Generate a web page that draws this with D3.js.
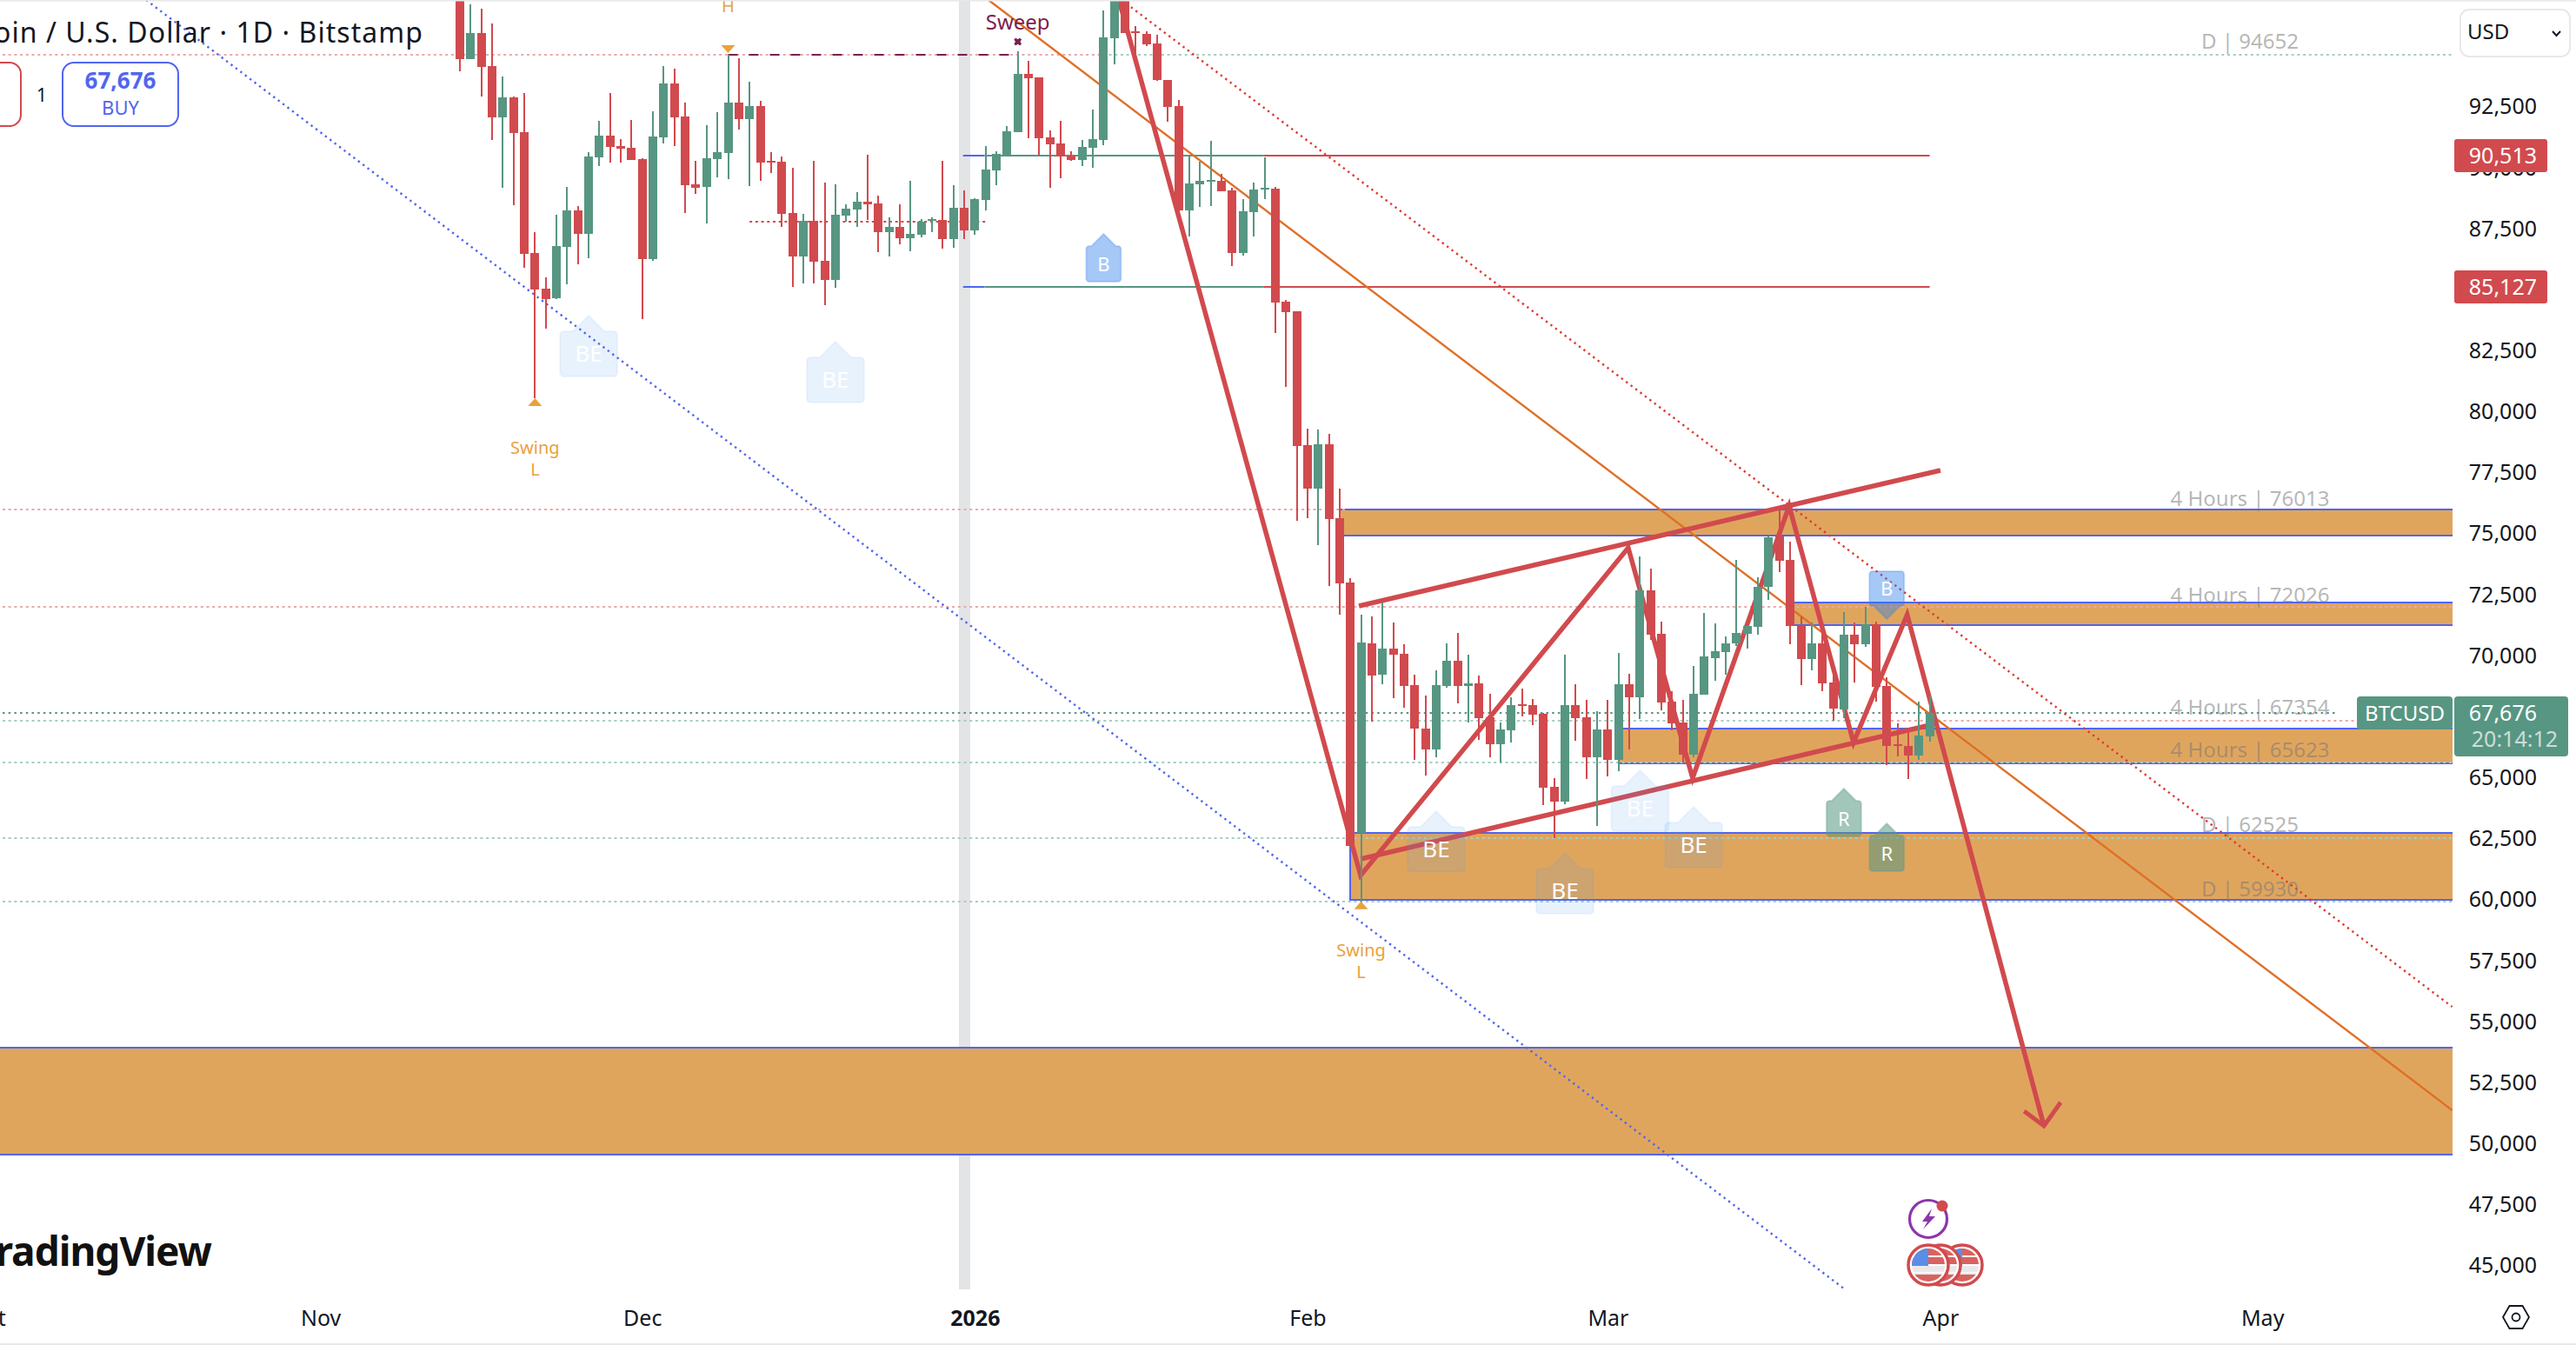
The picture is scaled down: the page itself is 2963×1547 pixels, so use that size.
<!DOCTYPE html>
<html><head><meta charset="utf-8">
<script src="https://cdn.jsdelivr.net/npm/d3@7"></script>
<style>html,body{margin:0;padding:0;background:#fff;overflow:hidden}svg{display:block}text{font-family:"Noto Sans",sans-serif}</style>
</head><body>
<script>
const highs=[97800,96715,96537,95931,93757,92937,93079,87377,85524,88090,
89230,88446,90656,91939,93079,91191,91975,90395,92331,94184,
94077,92687,90300,91761,92295,94648,94505,93543,92759,90656,
90478,90014,88126,90300,89409,89337,88518,89017,90549,88874,
87983,88518,89480,87912,87983,90300,89302,89088,88767,90905,
90692,91725,94790,94398,93721,91547,91939,90692,91155,92402,
96465,98200,98000,95824,95610,95467,93614,92794,90513,90264,
91119,89765,89195,88731,89409,90442,89230,84597,84134,79322,
79287,79109,76863,73193,71696,71625,72195,71375,70484,69237,
68381,69415,70519,70947,70056,69201,68453,67276,68310,68666,
68239,67668,65005,70056,68845,68203,67740,68203,70127,69272,
74083,73585,71410,68559,68203,69593,71767,71339,70805,73941,
71232,73228,74939,76044,74689,71625,71375,71232,69450,71802,
71375,72028,71410,69130,67241,67027,68131,68345];
const lows=[93980,94480,92949,91167,89207,88494,85928,80570,83433,84645,
85251,86070,86320,90098,90240,90240,90347,83825,86213,91024,
90917,88173,88957,87745,89634,89563,91595,89278,89492,89812,
87603,85144,85286,85286,84395,85108,87817,87603,87876,86569,
86391,86890,86605,87175,87389,86712,86748,87104,87282,88280,
89314,90513,91488,91238,90513,89207,89599,90300,90098,90026,
90953,94268,95551,94268,95016,93590,91915,87745,87211,88423,
88458,89064,85999,86427,87211,88743,83255,81045,75556,75664,
74559,72883,71708,62200,59947,67324,68856,68286,67894,65755,
65114,65862,68714,68073,67288,66575,65862,65649,66468,67537,
67181,63902,62549,63937,66540,64971,63046,65078,65292,66183,
67431,70662,67787,66967,65649,65862,68429,69000,69237,70413,
70317,70876,72301,73442,70484,68809,69415,68559,67348,67455,
68916,70377,68131,65542,65886,64971,65755,66493];
const opens=[97400,94480,95539,94184,92093,92901,91476,86522,85061,84680,
86783,88268,87318,90442,91333,90905,90834,90371,86284,91262,
93472,92117,89337,89242,90383,90632,92687,92022,92545,90300,
90264,88161,86391,87840,86201,85429,88066,88316,88625,88553,
87389,87591,87139,87282,87840,87876,87104,88375,87460,88708,
89920,90513,91488,93864,93721,91262,91012,90513,90347,90846,
91167,95337,97400,95622,95503,95111,93614,92545,88280,89337,
89456,89480,89088,86534,88209,89123,89159,84526,84134,78645,
76875,78681,75651,73014,62738,70519,69237,70306,70091,68809,
67027,66183,68785,69807,68785,68880,67490,66396,66967,68025,
67989,67632,64649,64044,67989,67490,65862,66991,65755,68845,
68321,72693,70911,68131,67276,65969,68429,69913,70163,70519,
70911,71196,72836,74915,73941,71268,69878,70519,68916,67811,
70875,70484,71303,68773,66385,66314,65922,66706];
const closes=[94480,95540,94161,92093,92901,91452,86498,85037,84645,86807,
88268,87318,90478,91333,90882,90810,90347,86284,91297,93472,
92093,89313,89207,90407,90656,92687,92022,92545,90240,90240,
88137,86391,87840,86177,85429,88090,88340,88625,88518,87389,
87591,87139,87306,87805,87912,87104,88375,87460,88731,89943,
90585,91511,93864,93685,91238,90989,90490,90335,90870,91191,
95360,97300,95551,95551,95075,93614,92521,88280,89373,89480,
89515,89064,86534,88232,89123,89195,84502,84110,78622,76875,
78681,75628,72990,62226,70555,69213,70306,70068,68785,67039,
66183,68809,69807,68785,68880,67466,66396,66991,67989,67977,
67609,64615,64044,67989,67466,65862,66991,65755,68845,68321,
72693,70876,68108,67252,65969,68453,69985,70198,70519,70947,
71232,72836,74868,73905,71232,69878,70519,68880,67847,70875,
70484,71303,68737,66314,66337,65922,66742,67676];
const priceTicks=[45000,47500,50000,52500,55000,57500,60000,62500,65000,67500,70000,72500,75000,77500,80000,82500,85000,87500,90000,92500];
const monthDates=["2025-10-01","2025-11-01","2025-12-01","2026-01-01","2026-02-01","2026-03-01","2026-04-01","2026-05-01"];
const monthLabels=["Oct","Nov","Dec","2026","Feb","Mar","Apr","May"];
// supply/demand zones: [fromDay, toDay, topPrice, bottomPrice]
const zones=[[-60,190,53946,49564],[83,190,62750,60000],[108,190,67026,65601],[124,190,72194,71268],[82,190,76008,74939]];
// level lines: [price, fromDay, toDay, kind]
const dottedLevels=[[94652,-60,60.5,"pink"],[94652,60.5,190,"mint"],[76013,-60,82.5,"pink"],[72026,-60,190,"pink"],
[67676,-60,175,"green"],[67354,-60,133.4,"mint"],[67354,133.4,190,"pink"],[65623,-60,190,"mint"],[62525,-60,190,"mint"],[59930,-60,190,"mint"],[87805,27,49,"red"]];
const segLevels=[[90513,46.9,48.9,"blue"],[90513,48.9,74.9,"green"],[90513,74.9,137,"red"],[85127,46.9,48.9,"blue"],[85127,48.9,74.9,"green"],[85127,74.9,137,"red"]];
const sweepLevel=[94652,25,51.4];
const blueTrend=[[-29.25,96893],[129.1,44039]];
const orangeTrend=[[49.27,96893],[185.7,51381]];
const redDotTrend=[[61.67,96893],[185.7,55622]];
const zigzag=[[61.43,96893],[83.95,61004],[108.9,74440],[114.9,64995],[123.9,76151],[129.9,66456],[134.9,71696],[147.65,50739]];
const arrowHead=[[145.8,51345],[147.65,50739],[149.2,51701]];
const channelUp=[[83.8,72052],[138,77612]];
const channelLow=[[83.95,61681],[137.7,67241]];
const beLabels=[[12,83956],[35,82886],[91,63641],[103,61930],[110,65316],[115,63819]];
const bLabelsUp=[[60,87306,"B","blue"],[129,64568,"R","green"],[133,63142,"R","green"]];
const bLabelDown=[133,71517,"B"];
const levelLabels=[["D | 94652",47],["4 Hours | 76013",573],["4 Hours | 72026",684],["4 Hours | 67354",813],["4 Hours | 65623",862],["D | 62525",948],["D | 59930",1022]];
const redTags=[90513,85127];
const lastPrice=67676, countdown="20:14:12";

const W=2963,H=1547,PR=2821,PB=1483;
const RED="#d14a4e",GREEN="#579682",BLUE="#5066f0",ORANGE="#e06f27",PURPLE="#7b1f4f",SW="#e9a23b";
const start=new Date(Date.UTC(2025,10,14));
const dateOf=d=>new Date(+start+d*864e5);
const x=d3.scaleUtc().domain([start,dateOf(137)]).range([529,2219.6]);
const y=d3.scaleLinear().domain([96893,44000]).range([0,1484.1]);
const X=d=>x(dateOf(d)), Y=p=>y(p), RY=p=>Math.round(y(p));
const svg=d3.select("body").append("svg").attr("width",W).attr("height",H).attr("viewBox",`0 0 ${W} ${H}`);
svg.append("rect").attr("width",W).attr("height",H).attr("fill","#fff");
svg.append("defs").append("clipPath").attr("id","pane").append("rect").attr("width",PR).attr("height",PB);
const pane=svg.append("g").attr("clip-path","url(#pane)");

// session bar
pane.append("rect").attr("x",Math.round(X(46.55))).attr("width",13).attr("y",0).attr("height",PB).attr("fill","#e3e4e6");

// zones
pane.append("g").selectAll("rect").data(zones).join("rect")
 .attr("x",d=>Math.round(X(d[0]))).attr("width",d=>Math.round(X(d[1])-X(d[0])))
 .attr("y",d=>RY(d[2])).attr("height",d=>RY(d[3])-RY(d[2]))
 .attr("fill","#e0a55d").attr("stroke",BLUE).attr("stroke-width",2);

// dotted level lines
const kinds={pink:["#eaa9ab","3 3.7"],mint:["#a3cfc3","3 3.7"],green:[GREEN,"2.5 4.2"],red:[RED,"3 3.7"]};
pane.append("g").selectAll("line").data(dottedLevels).join("line")
 .attr("x1",d=>X(d[1])).attr("x2",d=>X(d[2])).attr("y1",d=>RY(d[0])).attr("y2",d=>RY(d[0]))
 .attr("stroke",d=>kinds[d[3]][0]).attr("stroke-dasharray",d=>kinds[d[3]][1]).attr("stroke-width",2);
pane.append("line").attr("x1",X(sweepLevel[1])).attr("x2",X(sweepLevel[2])).attr("y1",RY(sweepLevel[0])).attr("y2",RY(sweepLevel[0]))
 .attr("stroke",PURPLE).attr("stroke-width",2).attr("stroke-dasharray","11 13");
const segC={blue:BLUE,green:GREEN,red:RED};
pane.append("g").selectAll("line").data(segLevels).join("line")
 .attr("x1",d=>X(d[1])).attr("x2",d=>X(d[2])).attr("y1",d=>RY(d[0])).attr("y2",d=>RY(d[0]))
 .attr("stroke",d=>segC[d[3]]).attr("stroke-width",2);

// trend lines
const line=d3.line().x(d=>X(d[0])).y(d=>Y(d[1]));
const draw=(pts,c,w,dash)=>pane.append("path").attr("d",line(pts)).attr("fill","none").attr("stroke",c).attr("stroke-width",w)
  .attr("stroke-dasharray",dash||null).attr("stroke-linejoin","miter");
draw(blueTrend,BLUE,2.4,"2.4 4.4");
draw(redDotTrend,"#df3b30",2.4,"2.4 4.4");
draw(orangeTrend,ORANGE,2.4);
draw(channelUp,RED,5.5);
draw(channelLow,RED,5.5);
draw(zigzag,RED,5.5);
draw(arrowHead,RED,5);

// candles
const candles=highs.map((h,i)=>({i,h,l:lows[i],o:opens[i],c:closes[i]}));
const cg=pane.append("g");
cg.selectAll("rect.w").data(candles).join("rect").attr("class","w")
 .attr("x",d=>Math.round(X(d.i))-1).attr("width",2)
 .attr("y",d=>RY(d.h)).attr("height",d=>RY(d.l)-RY(d.h))
 .attr("fill",d=>d.c>=d.o?GREEN:RED);
cg.selectAll("rect.b").data(candles).join("rect").attr("class","b")
 .attr("x",d=>Math.round(X(d.i))-5).attr("width",10)
 .attr("y",d=>RY(Math.max(d.o,d.c))).attr("height",d=>Math.max(2,RY(Math.min(d.o,d.c))-RY(Math.max(d.o,d.c))))
 .attr("fill",d=>d.c>=d.o?GREEN:RED);

// pentagon labels
function up(cx,ty,w,nh,bh,r){const a=cx-w/2,b=cx+w/2,t=ty+nh,e=t+bh;
 return `M${cx},${ty}L${cx+nh},${t}L${b-r},${t}Q${b},${t} ${b},${t+r}L${b},${e-r}Q${b},${e} ${b-r},${e}L${a+r},${e}Q${a},${e} ${a},${e-r}L${a},${t+r}Q${a},${t} ${a+r},${t}L${cx-nh},${t}Z`;}
function down(cx,tip,w,nh,bh,r){const a=cx-w/2,b=cx+w/2,e=tip-nh,t=e-bh;
 return `M${cx},${tip}L${cx-nh},${e}L${a+r},${e}Q${a},${e} ${a},${e-r}L${a},${t+r}Q${a},${t} ${a+r},${t}L${b-r},${t}Q${b},${t} ${b},${t+r}L${b},${e-r}Q${b},${e} ${b-r},${e}L${cx+nh},${e}Z`;}
const lab=pane.append("g");
beLabels.forEach(d=>{const cx=X(d[0]),ty=Y(d[1]);
 lab.append("path").attr("d",up(cx,ty,66,18,52,5)).attr("fill","rgba(78,155,240,.13)").attr("stroke","rgba(78,155,240,.08)").attr("stroke-width",2);
 lab.append("text").attr("x",cx).attr("y",ty+43).attr("text-anchor","middle").attr("dominant-baseline","middle").attr("font-size",26).attr("fill","#fff").text("BE");});
const fillC={blue:["rgba(43,124,236,.42)","rgba(43,124,236,.25)"],green:["rgba(86,151,130,.55)","rgba(86,151,130,.3)"]};
bLabelsUp.forEach(d=>{const cx=X(d[0]),ty=Y(d[1]);
 lab.append("path").attr("d",up(cx,ty,40,14,41,4)).attr("fill",fillC[d[3]][0]).attr("stroke",fillC[d[3]][1]).attr("stroke-width",2);
 lab.append("text").attr("x",cx).attr("y",ty+34).attr("text-anchor","middle").attr("dominant-baseline","middle").attr("font-size",22).attr("fill","#fff").text(d[2]);});
{const cx=X(bLabelDown[0]),tip=Y(bLabelDown[1]);
 lab.append("path").attr("d",down(cx,tip,40,15,40,4)).attr("fill",fillC.blue[0]).attr("stroke",fillC.blue[1]).attr("stroke-width",2);
 lab.append("text").attr("x",cx).attr("y",tip-36).attr("text-anchor","middle").attr("dominant-baseline","middle").attr("font-size",22).attr("fill","#fff").text(bLabelDown[2]);}

// swing / sweep markers
function tri(cx,yy,dir){return `M${cx-8},${yy}L${cx+8},${yy}L${cx},${yy+dir*9}Z`;}
[7,84].forEach(i=>{const cx=X(i),yy=Y(lows[i]);
 lab.append("path").attr("d",tri(cx,yy+9,-1)).attr("fill",SW);
 lab.append("text").attr("x",cx).attr("y",yy+56).attr("text-anchor","middle").attr("dominant-baseline","middle").attr("font-size",20).attr("fill",SW).text("Swing");
 lab.append("text").attr("x",cx).attr("y",yy+81).attr("text-anchor","middle").attr("dominant-baseline","middle").attr("font-size",20).attr("fill",SW).text("L");});
{const cx=X(25),yy=Y(highs[25]);
 lab.append("path").attr("d",tri(cx,yy-11,1)).attr("fill",SW);
 lab.append("text").attr("x",cx).attr("y",6).attr("text-anchor","middle").attr("dominant-baseline","middle").attr("font-size",20).attr("fill",SW).text("H");
 const sx=X(52),sy=Y(highs[52]);
 lab.append("text").attr("x",sx).attr("y",sy-34).attr("text-anchor","middle").attr("dominant-baseline","middle").attr("font-size",24).attr("fill",PURPLE).text("Sweep");
 lab.append("path").attr("d",d3.symbol(d3.symbolCross,50)()).attr("transform",`translate(${sx},${sy-11}) rotate(45)`).attr("fill",PURPLE);
 lab.append("circle").attr("cx",sx).attr("cy",sy-11).attr("r",3).attr("fill",PURPLE);}

// level labels
lab.selectAll("text.lv").data(levelLabels).join("text").attr("class","lv")
 .attr("x",2588).attr("y",d=>d[1]).attr("text-anchor","middle").attr("dominant-baseline","middle")
 .attr("font-size",24).attr("fill","rgba(120,120,120,.55)").text(d=>d[0]);

// right axis
const ya=svg.append("g").attr("transform","translate(2918,0)").call(d3.axisRight(y).tickValues(priceTicks).tickFormat(d3.format(",")).tickSize(0));
ya.select(".domain").remove();
ya.selectAll("text").attr("x",0).attr("y",-2).attr("text-anchor","end").attr("dominant-baseline","middle").attr("font-size",25).attr("font-family",'"Noto Sans",sans-serif').attr("fill","#131722");

// bottom axis
const xa=svg.append("g").attr("transform","translate(0,1515)").call(d3.axisBottom(x).tickValues(monthDates.map(s=>new Date(s))).tickFormat((d,i)=>monthLabels[i]).tickSize(0));
xa.select(".domain").remove();
xa.selectAll("text").attr("y",0).attr("dominant-baseline","middle").attr("font-size",25).attr("font-family",'"Noto Sans",sans-serif').attr("fill","#131722").attr("font-weight",(d,i)=>monthLabels[i]==="2026"?700:400);

// price tags
redTags.forEach(p=>{const cy=RY(p);
 svg.append("rect").attr("x",2823).attr("y",cy-19).attr("width",107).attr("height",38).attr("rx",3).attr("fill",RED);
 svg.append("text").attr("x",2918).attr("y",cy-1).attr("text-anchor","end").attr("dominant-baseline","middle").attr("font-size",25).attr("fill","#fff").text(d3.format(",")(p));});
{const cy=RY(lastPrice);
 svg.append("rect").attr("x",2711).attr("y",cy-19).attr("width",110).attr("height",38).attr("rx",4).attr("fill",GREEN);
 svg.append("text").attr("x",2766).attr("y",cy).attr("text-anchor","middle").attr("dominant-baseline","middle").attr("font-size",24).attr("fill","#fff").text("BTCUSD");
 svg.append("rect").attr("x",2823).attr("y",cy-19).attr("width",131).attr("height",69).attr("rx",4).attr("fill",GREEN);
 svg.append("text").attr("x",2918).attr("y",cy-1).attr("text-anchor","end").attr("dominant-baseline","middle").attr("font-size",25).attr("fill","#fff").text(d3.format(",")(lastPrice));
 svg.append("text").attr("x",2942).attr("y",cy+29).attr("text-anchor","end").attr("dominant-baseline","middle").attr("font-size",25).attr("fill","rgba(255,255,255,.7)").text(countdown);}

// header texts
svg.append("text").attr("x",487).attr("y",37).attr("text-anchor","end").attr("dominant-baseline","middle").attr("font-size",32).attr("letter-spacing",1.05).attr("fill","#131722").text("Bitcoin / U.S. Dollar · 1D · Bitstamp");
svg.append("rect").attr("x",-100).attr("y",72).attr("width",124).attr("height",73).attr("rx",13).attr("fill","#fff").attr("stroke",RED).attr("stroke-width",2);
svg.append("text").attr("x",48).attr("y",109).attr("text-anchor","middle").attr("dominant-baseline","middle").attr("font-size",21).attr("fill","#131722").text("1");
svg.append("rect").attr("x",72).attr("y",72).attr("width",133).attr("height",73).attr("rx",13).attr("fill","#fff").attr("stroke",BLUE).attr("stroke-width",2);
svg.append("text").attr("x",138.5).attr("y",92).attr("text-anchor","middle").attr("dominant-baseline","middle").attr("font-size",26).attr("font-weight",700).attr("fill",BLUE).text(d3.format(",")(lastPrice));
svg.append("text").attr("x",138.5).attr("y",123).attr("text-anchor","middle").attr("dominant-baseline","middle").attr("font-size",22).attr("fill",BLUE).text("BUY");

// USD dropdown
svg.append("rect").attr("x",2830).attr("y",11).attr("width",126).attr("height",54).attr("rx",10).attr("fill","#fff").attr("stroke","#e8e8ea").attr("stroke-width",2);
svg.append("text").attr("x",2838).attr("y",36).attr("dominant-baseline","middle").attr("font-size",24).attr("fill","#131722").text("USD");
svg.append("path").attr("d","M2936,36L2940.5,41L2945,36").attr("fill","none").attr("stroke","#131722").attr("stroke-width",2);

// watermark
svg.append("text").attr("x",243).attr("y",1438).attr("text-anchor","end").attr("dominant-baseline","middle").attr("font-family","Inter").attr("font-weight",700).attr("font-size",46).attr("letter-spacing",-1).attr("fill","#111").text("TradingView");

// event icons
const ic=svg.append("g");
ic.append("circle").attr("cx",2218).attr("cy",1402).attr("r",21.5).attr("fill","#fff").attr("stroke","#8e35ab").attr("stroke-width",3.2);
ic.append("path").attr("d","M2222,1390L2211,1405L2217,1405L2212,1414L2226,1399L2219,1399Z").attr("fill","#8e35ab");
ic.append("circle").attr("cx",2234).attr("cy",1387).attr("r",6.5).attr("fill",RED);
const fd=ic.append("defs");
[2257,2232,2218].forEach((cx,k)=>{
 fd.append("clipPath").attr("id","f"+k).append("circle").attr("cx",cx).attr("cy",1455).attr("r",19);
 ic.append("circle").attr("cx",cx).attr("cy",1455).attr("r",23).attr("fill","#fff").attr("stroke",RED).attr("stroke-width",3.5);
 const g=ic.append("g").attr("clip-path",`url(#f${k})`);
 [1436,1446,1456,1466].forEach((yy,i)=>g.append("rect").attr("x",cx-20).attr("y",yy).attr("width",40).attr("height",i==2?7:8).attr("fill",i==2?"#e8e8ec":"#d9625f"));
 g.append("rect").attr("x",cx-20).attr("y",1436).attr("width",20).attr("height",20).attr("fill","#5a8ee6");
 g.append("rect").attr("x",cx-20).attr("y",1464).attr("width",40).attr("height",2).attr("fill","#e8e8ec");
});
// settings icon
const hr=15,hx=2894,hy=1515;
svg.append("path").attr("d",`M${hx-hr},${hy}L${hx-hr/2},${hy-13}L${hx+hr/2},${hy-13}L${hx+hr},${hy}L${hx+hr/2},${hy+13}L${hx-hr/2},${hy+13}Z`).attr("fill","none").attr("stroke","#131722").attr("stroke-width",1.8);
svg.append("circle").attr("cx",hx).attr("cy",hy).attr("r",4.5).attr("fill","none").attr("stroke","#131722").attr("stroke-width",1.8);

// frame
svg.append("rect").attr("x",0).attr("y",0).attr("width",W).attr("height",1.5).attr("fill","#e8e8ea");
svg.append("rect").attr("x",0).attr("y",1545).attr("width",W).attr("height",2).attr("fill","#e8e8ea");

// optical baseline adjustment for all labels
svg.selectAll("text").attr("dy","0.12em");
</script>
</body></html>
